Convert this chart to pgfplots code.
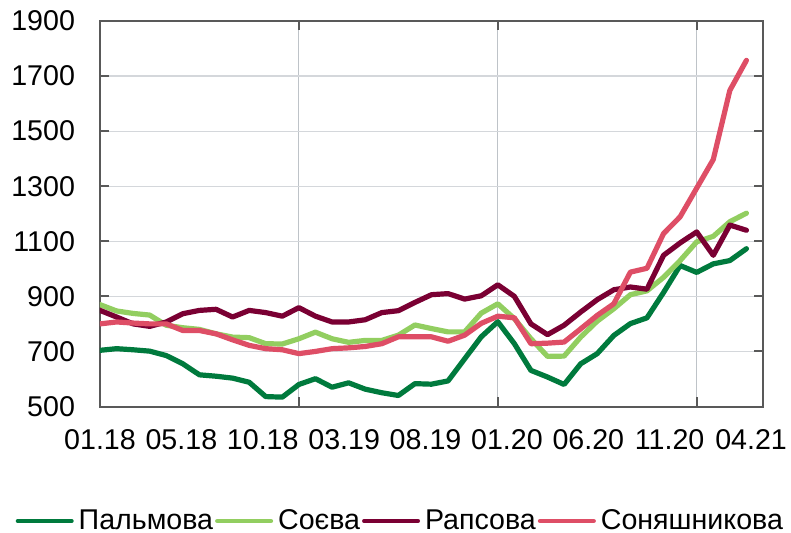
\documentclass[border=0pt]{standalone}
\usepackage{fontspec}
\setmainfont{Liberation Sans}
\usepackage{pgfplots}
\pgfplotsset{compat=1.18}
\usepackage{pgfplotstable}

\definecolor{palm}{RGB}{0,122,61}
\definecolor{soy}{RGB}{146,206,96}
\definecolor{rape}{RGB}{122,0,51}
\definecolor{sun}{RGB}{222,78,102}
\definecolor{axisgray}{RGB}{89,89,89}
\definecolor{vgrid}{RGB}{190,195,200}
\definecolor{hgrid}{RGB}{212,215,219}

% Monthly prices, 01.18 (i = 0) to 04.21 (i = 39)
\pgfplotstableread{
i  palm  soy   rape  sun
0  704   870   849   800
1  710   847   825   807
2  706   838   800   803
3  701   832   791   800
4  685   795   807   800
5  655   786   837   776
6  615   780   849   776
7  610   764   853   764
8  603   752   825   742
9  588   750   849   722
10 536   728   841   710
11 534   727   828   706
12 580   746   859   692
13 601   770   828   700
14 570   746   807   710
15 586   733   807   713
16 563   740   815   718
17 550   740   841   728
18 540   759   848   753
19 583   796   878   753
20 581   783   906   753
21 593   771   910   737
22 673   771   890   759
23 753   839   902   802
24 808   873   942   828
25 728   819   900   822
26 631   746   800   728
27 607   682   761   730
28 580   683   795   734
29 655   752   843   782
30 692   810   888   831
31 758   855   924   873
32 801   906   934   988
33 822   920   926   1002
34 914   969   1049  1128
35 1012  1030  1094  1189
36 987   1098  1134  1293
37 1018  1118  1049  1397
38 1030  1171  1159  1648
39 1073  1202  1140  1757
}\prices

\newcommand{\chartfont}{\fontsize{14.3bp}{17bp}\selectfont}

\begin{document}
\begin{tikzpicture}
\useasboundingbox (-50bp,-63.25bp) rectangle (345.5bp,203.25bp);
\begin{axis}[
  at={(0,0)}, anchor=south west,
  scale only axis, width=331.5bp, height=192.75bp,
  xmin=0, xmax=40, ymin=500, ymax=1900,
  ytick={500,700,...,1900},
  xtick={12,24,36}, xticklabels={,,},
  extra x ticks={0,4.91,9.82,14.73,19.64,24.55,29.46,34.37,39.28},
  extra x tick labels={01.18,05.18,10.18,03.19,08.19,01.20,06.20,11.20,04.21},
  extra x tick style={grid=none, major tick length=0pt},
  xmajorgrids, ymajorgrids,
  x grid style={vgrid, line width=0.6bp},
  y grid style={hgrid, line width=0.6bp},
  axis line style={axisgray, line width=1bp},
  tick align=inside, major tick length=4.5bp,
  tick style={axisgray, line width=1bp},
  /pgf/number format/assume math mode=true,
  /pgf/number format/1000 sep={},
  tick label style={font=\chartfont, text=black},
  yticklabel style={xshift=-9bp},
  xticklabel style={yshift=-7.8bp},
  every axis plot/.append style={line width=2.6bp, line join=round, line cap=round},
  legend columns=4,
  legend style={at={(0.453,-0.297)}, anchor=center, draw=none, fill=none,
    font=\chartfont, inner sep=0pt,
    nodes={inner xsep=1bp, inner ysep=1bp},
    /tikz/every odd column/.append style={column sep=1.5bp}},
  legend image code/.code={\draw[#1, line width=2bp] (0bp,0bp) -- (27bp,0bp);},
]
\addplot[palm] table[x=i, y=palm] {\prices};
\addlegendentry{Пальмова}
\addplot[soy] table[x=i, y=soy] {\prices};
\addlegendentry{Соєва}
\addplot[rape] table[x=i, y=rape] {\prices};
\addlegendentry{Рапсова}
\addplot[sun] table[x=i, y=sun] {\prices};
\addlegendentry{Соняшникова}
\end{axis}
\end{tikzpicture}
\end{document}
